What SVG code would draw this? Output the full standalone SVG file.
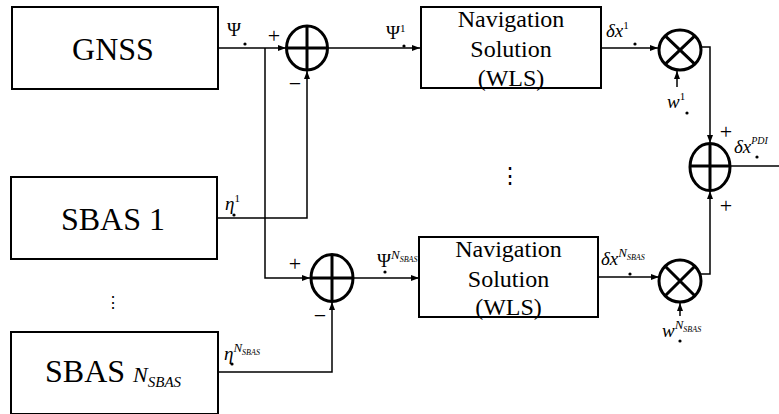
<svg xmlns="http://www.w3.org/2000/svg" width="779" height="414" viewBox="0 0 779 414">
<style>
.box{fill:#fff;stroke:#000;stroke-width:2}
.op{fill:none;stroke:#000;stroke-width:3}
.ln{fill:none;stroke:#000;stroke-width:1.5}
.i{font-style:italic}
.n{font-style:normal}
</style>
<defs>
<marker id="ar" viewBox="0 0 8 6" refX="8" refY="3" markerWidth="8" markerHeight="6" markerUnits="userSpaceOnUse" orient="auto">
<path d="M0,0 L8,3 L0,6 z" fill="#000"/>
</marker>
</defs>
<rect width="779" height="414" fill="#fff"/>
<g id="connectors">
<path class="ln" d="M218,48 H286" marker-end="url(#ar)"/>
<path class="ln" d="M265,48 V278 H310" marker-end="url(#ar)"/>
<path class="ln" d="M217,218 H307 V71" marker-end="url(#ar)"/>
<path class="ln" d="M328,48 H420" marker-end="url(#ar)"/>
<path class="ln" d="M601,48 H658" marker-end="url(#ar)"/>
<path class="ln" d="M677,87 V71" marker-end="url(#ar)"/>
<path class="ln" d="M701,47 H710 V143" marker-end="url(#ar)"/>
<path class="ln" d="M353,278 H419" marker-end="url(#ar)"/>
<path class="ln" d="M598,277 H659" marker-end="url(#ar)"/>
<path class="ln" d="M680,316 V303" marker-end="url(#ar)"/>
<path class="ln" d="M701,274 H710 V191" marker-end="url(#ar)"/>
<path class="ln" d="M218,372 H332 V302" marker-end="url(#ar)"/>
<path class="ln" d="M730,166 H779"/>
</g>
<g id="gnss" font-family="Liberation Serif, serif">
<rect class="box" x="12" y="7" width="206" height="82"/>
<text x="113" y="60" font-size="32" text-anchor="middle">GNSS</text>
</g>
<g id="sbas1" font-family="Liberation Serif, serif">
<rect class="box" x="11" y="177" width="206" height="82"/>
<text x="113" y="230" font-size="32" text-anchor="middle">SBAS 1</text>
</g>
<g id="sbasN" font-family="Liberation Serif, serif">
<rect class="box" x="11" y="332" width="207" height="82"/>
<text x="45" y="382" font-size="32">SBAS <tspan class="i" font-size="22">N</tspan><tspan class="i" font-size="15" dy="5">SBAS</tspan></text>
</g>
<g id="nav1" font-family="Liberation Serif, serif">
<rect class="box" x="421" y="7" width="180" height="81"/>
<text x="511" y="27" font-size="24" text-anchor="middle">Navigation</text>
<text x="511" y="57" font-size="24" text-anchor="middle">Solution</text>
<text x="511" y="86" font-size="24" text-anchor="middle">(WLS)</text>
</g>
<g id="nav2" font-family="Liberation Serif, serif">
<rect class="box" x="419" y="237" width="179" height="80"/>
<text x="508.5" y="257" font-size="24" text-anchor="middle">Navigation</text>
<text x="508.5" y="287" font-size="24" text-anchor="middle">Solution</text>
<text x="508.5" y="315" font-size="24" text-anchor="middle">(WLS)</text>
</g>
<g id="sum1">
<ellipse class="op" cx="307" cy="48" rx="20.5" ry="22"/>
<path class="op" d="M286.5,48 H327.5 M307,26 V70"/>
</g>
<g id="sum2">
<ellipse class="op" cx="332" cy="278" rx="21" ry="23.5"/>
<path class="op" d="M311,278 H353 M332,254.5 V301.5"/>
</g>
<g id="sumF">
<ellipse class="op" cx="710" cy="167" rx="20" ry="23.5"/>
<path class="op" d="M690,166 H730 M710,143.5 V190.5"/>
</g>
<g id="mul1">
<ellipse class="op" cx="680" cy="50" rx="21" ry="20"/>
<path class="op" d="M665.2,35.9 L694.8,64.1 M694.8,35.9 L665.2,64.1"/>
</g>
<g id="mul2">
<ellipse class="op" cx="680" cy="281" rx="21" ry="21"/>
<path class="op" d="M665.2,266.2 L694.8,295.8 M694.8,266.2 L665.2,295.8"/>
</g>
<g id="labels" font-family="Liberation Serif, serif">
<text x="227" y="36" font-size="19">Ψ</text><circle cx="245" cy="44" r="1.6"/>
<text x="274" y="43" font-size="22" text-anchor="middle">+</text>
<text x="295" y="91" font-size="22" text-anchor="middle">−</text>
<text x="386" y="39" font-size="19">Ψ<tspan font-size="11" dy="-7">1</tspan></text><circle cx="404" cy="46" r="1.6"/>
<text class="i" x="606" y="37" font-size="19">δx<tspan class="n" font-size="11" dy="-8">1</tspan></text><circle cx="635" cy="44" r="1.6"/>
<text class="i" x="667" y="108" font-size="19">w<tspan class="n" font-size="11" dy="-8">1</tspan></text><circle cx="687" cy="113" r="1.6"/>
<text x="726" y="139" font-size="22" text-anchor="middle">+</text>
<text x="726" y="213" font-size="22" text-anchor="middle">+</text>
<text class="i" x="734" y="153" font-size="19">δx<tspan font-size="10" dy="-9">PDI</tspan></text><circle cx="757" cy="157" r="1.6"/>
<text class="i" x="225" y="210" font-size="19">η<tspan class="n" font-size="11" dy="-8">1</tspan></text><circle cx="234" cy="215" r="1.6"/>
<text x="295" y="271" font-size="22" text-anchor="middle">+</text>
<text x="320" y="323" font-size="22" text-anchor="middle">−</text>
<text x="377" y="267" font-size="19">Ψ<tspan class="i" font-size="13" dy="-8">N</tspan><tspan class="i" font-size="8" dy="3">SBAS</tspan></text><circle cx="385" cy="272" r="1.6"/>
<text class="i" x="224" y="360" font-size="19">η<tspan font-size="13" dy="-8">N</tspan><tspan font-size="8" dy="3">SBAS</tspan></text><circle cx="232" cy="364" r="1.6"/>
<text class="i" x="601" y="265" font-size="19">δx<tspan font-size="13" dy="-8">N</tspan><tspan font-size="8" dy="3">SBAS</tspan></text><circle cx="630" cy="274" r="1.6"/>
<text class="i" x="662" y="337" font-size="19">w<tspan font-size="13" dy="-8">N</tspan><tspan font-size="8" dy="3">SBAS</tspan></text><circle cx="680" cy="341" r="1.6"/>
<text x="113" y="308" font-size="16" text-anchor="middle">⋮</text>
<text x="510" y="183" font-size="22" text-anchor="middle">⋮</text>
</g>
</svg>
